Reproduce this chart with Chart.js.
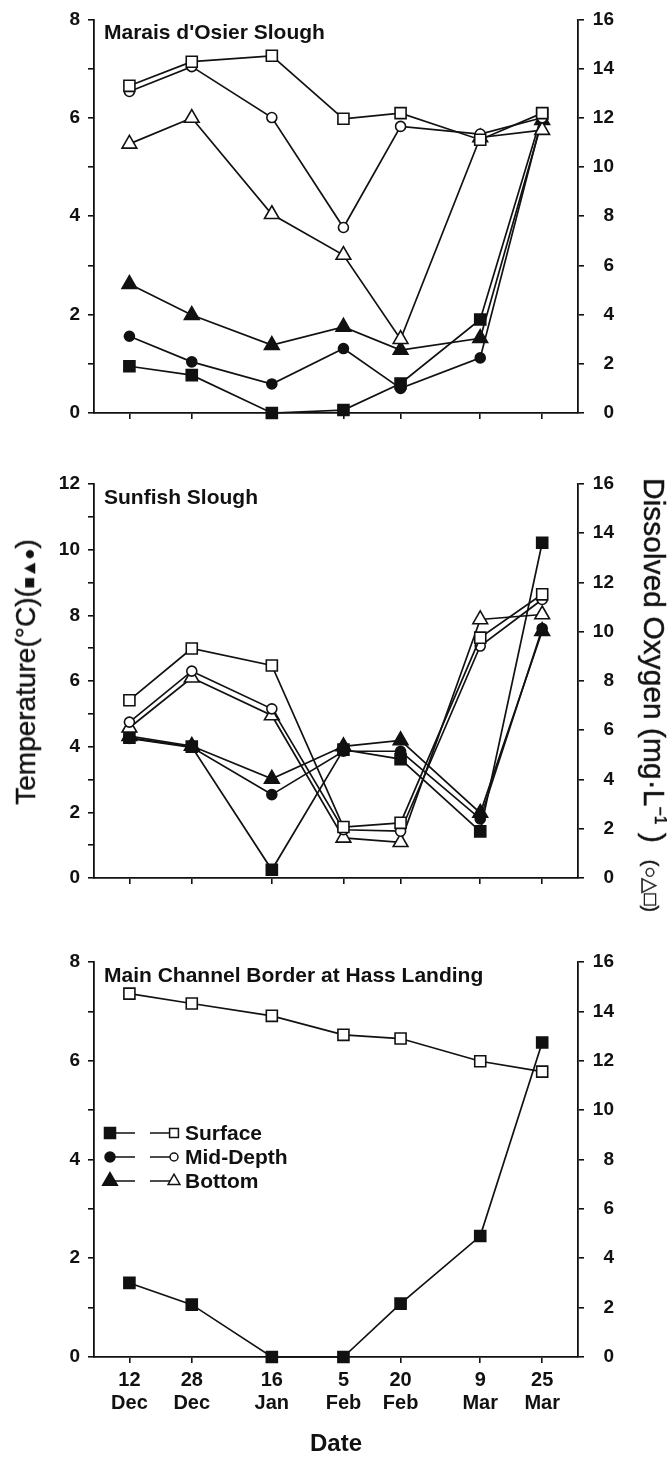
<!DOCTYPE html>
<html><head><meta charset="utf-8">
<script src="https://cdn.jsdelivr.net/npm/chart.js@4.4.1/dist/chart.umd.min.js"></script>
<style>
html,body{margin:0;padding:0;background:#fff;}
#wrap{position:relative;width:667px;height:1459px;overflow:hidden;font-family:"Liberation Sans",Arial,Helvetica,sans-serif;color:#111;background:#fff;}
canvas{position:absolute;left:0;}
.ptitle{position:absolute;left:104px;font-weight:bold;font-size:21px;line-height:21px;white-space:nowrap;}
.rot{position:absolute;white-space:nowrap;transform-origin:center center;-webkit-text-stroke:0.4px #111;}
</style></head>
<body>
<div id="wrap">
<canvas id="c1" width="667" height="440" style="top:0px"></canvas>
<canvas id="c2" width="667" height="460" style="top:440px"></canvas>
<canvas id="c3" width="667" height="559" style="top:900px"></canvas>
<div class="ptitle" style="top:21px">Marais d'Osier Slough</div>
<div class="ptitle" style="top:486px">Sunfish Slough</div>
<div class="ptitle" style="top:964px">Main Channel Border at Hass Landing</div>
<div class="rot" id="tl" style="left:26px;top:672px;font-size:28px;transform:translate(-50%,-50%) rotate(-90deg);">Temperature(°C)(<span style="font-size:18px">■▲●</span>)</div>
<div class="rot" id="tr" style="left:654px;top:695px;font-size:30px;transform:translate(-50%,-50%) rotate(90deg);">Dissolved Oxygen (mg·L<sup style="font-size:16px">−1</sup> )&nbsp;&nbsp;<span style="font-size:20px">(○△□)</span></div>
<div style="position:absolute;left:336px;top:1443px;transform:translate(-50%,-50%);font-weight:bold;font-size:24px;">Date</div>
</div>
<script>
// ---- data ----
const dateLabels = [['12','Dec'],['28','Dec'],['16','Jan'],['5','Feb'],['20','Feb'],['9','Mar'],['25','Mar']];
const dayPos = [0, 15.5, 35.4, 53.2, 67.4, 87.2, 102.6];

const maraisTempSurface = [0.95, 0.77, 0.0, 0.06, 0.6, 1.9, 6.08];
const maraisTempMid     = [1.56, 1.04, 0.59, 1.31, 0.5, 1.12, 6.0];
const maraisTempBottom  = [2.62, 1.99, 1.38, 1.75, 1.28, 1.52, 5.95];
const maraisDOSurface   = [13.3, 14.28, 14.52, 11.96, 12.19, 11.11, 12.19];
const maraisDOMid       = [13.07, 14.08, 12.01, 7.54, 11.65, 11.34, 12.0];
const maraisDOBottom    = [10.94, 11.99, 8.08, 6.42, 3.0, 11.2, 11.5];

const sunTempSurface = [4.27, 4.0, 0.25, 3.91, 3.62, 1.42, 10.21];
const sunTempMid     = [4.25, 3.98, 2.54, 3.86, 3.86, 1.8, 7.6];
const sunTempBottom  = [4.32, 4.02, 3.02, 4.01, 4.19, 1.98, 7.52];
const sunDOSurface   = [7.22, 9.32, 8.63, 2.07, 2.24, 9.76, 11.52];
const sunDOMid       = [6.33, 8.4, 6.87, 1.96, 1.9, 9.42, 11.31];
const sunDOBottom    = [6.1, 8.13, 6.6, 1.63, 1.45, 10.5, 10.7];

const hassTempSurface = [1.5, 1.06, 0.0, 0.0, 1.08, 2.45, 6.37];
const hassDOSurface   = [14.72, 14.32, 13.82, 13.05, 12.9, 11.98, 11.56];

const legendLabels = ['Surface', 'Mid-Depth', 'Bottom'];
const legendStyles = ['rect', 'circle', 'triangle'];

// ---- styling ----
const INK = '#111';
const FONT = '"Liberation Sans", Arial, Helvetica, sans-serif';
const radius = {rect: 7.8, circle: 5, triangle: 8.5};

function series(data, axis, style, filled) {
  return {
    data: dayPos.map((x, i) => ({x: x, y: data[i]})),
    yAxisID: axis,
    borderColor: INK, borderWidth: 1.7,
    pointStyle: style, pointRadius: radius[style],
    pointBackgroundColor: filled ? INK : '#fff',
    pointBorderColor: INK, pointBorderWidth: 1.6,
    fill: false, tension: 0, clip: false
  };
}

const hassLegend = {
  id: 'hassLegend',
  afterDatasetsDraw(chart) {
    const ctx = chart.ctx, a = chart.chartArea;
    ctx.save();
    legendLabels.forEach((lab, i) => {
      const y = a.top + 171 + i * 24;
      const x0 = a.left;
      ctx.strokeStyle = INK; ctx.lineWidth = 1.7;
      ctx.beginPath(); ctx.moveTo(x0 + 20, y); ctx.lineTo(x0 + 41, y);
      ctx.moveTo(x0 + 56, y); ctx.lineTo(x0 + 76, y); ctx.stroke();
      ctx.fillStyle = INK; ctx.lineWidth = 1.5;
      Chart.helpers.drawPoint(ctx, {pointStyle: legendStyles[i], radius: radius[legendStyles[i]], borderWidth: 1.5}, x0 + 16, y);
      ctx.fillStyle = '#fff';
      Chart.helpers.drawPoint(ctx, {pointStyle: legendStyles[i], radius: radius[legendStyles[i]] * 0.8, borderWidth: 1.5}, x0 + 80, y);
      ctx.fillStyle = INK;
      ctx.font = 'bold 21px ' + FONT;
      ctx.textBaseline = 'middle'; ctx.textAlign = 'left';
      ctx.fillText(lab, x0 + 91, y + 1);
    });
    ctx.restore();
  }
};

function makePanel(id, leftMax, datasets, padTop, xHeight, showX, plugins) {
  const grid = {drawOnChartArea: false, drawTicks: true, tickLength: 6, color: INK, lineWidth: 1.6};
  const border = {display: true, color: INK, width: 1.8};
  const tickFont = {family: FONT, size: 19, weight: 'bold'};
  return new Chart(document.getElementById(id), {
    type: 'line',
    data: {datasets: datasets},
    plugins: plugins || [],
    options: {
      responsive: false, animation: false, devicePixelRatio: 1, events: [],
      layout: {padding: {top: padTop, left: 0, right: 53, bottom: 0}},
      plugins: {legend: {display: false}, tooltip: {enabled: false}, title: {display: false}},
      scales: {
        x: {
          type: 'linear', bounds: 'data', min: -8.8, max: 111.5,
          afterBuildTicks: s => { s.ticks = dayPos.map(v => ({value: v})); },
          afterFit: s => { s.height = xHeight; },
          ticks: {display: showX, autoSkip: false, maxRotation: 0, minRotation: 0, padding: 6,
                  color: INK, font: {family: FONT, size: 20, weight: 'bold', lineHeight: 1.15},
                  callback: (v, i) => dateLabels[i]},
          grid: grid, border: border
        },
        yL: {
          position: 'left', min: 0, max: leftMax,
          afterFit: s => { s.width = 94; },
          ticks: {stepSize: 1, autoSkip: false, padding: 8, color: INK, font: tickFont,
                  callback: v => (v % 2 === 0 ? String(v) : '')},
          grid: grid, border: border
        },
        yR: {
          position: 'right', min: 0, max: 16,
          afterFit: s => { s.width = 36; },
          ticks: {stepSize: 2, autoSkip: false, padding: 8, crossAlign: 'far', color: INK, font: tickFont},
          grid: grid, border: border
        }
      }
    }
  });
}

makePanel('c1', 8, [
  series(maraisDOSurface, 'yR', 'rect', false),
  series(maraisDOMid, 'yR', 'circle', false),
  series(maraisDOBottom, 'yR', 'triangle', false),
  series(maraisTempSurface, 'yL', 'rect', true),
  series(maraisTempMid, 'yL', 'circle', true),
  series(maraisTempBottom, 'yL', 'triangle', true)
], 19, 27, false);

makePanel('c2', 12, [
  series(sunDOSurface, 'yR', 'rect', false),
  series(sunDOMid, 'yR', 'circle', false),
  series(sunDOBottom, 'yR', 'triangle', false),
  series(sunTempSurface, 'yL', 'rect', true),
  series(sunTempMid, 'yL', 'circle', true),
  series(sunTempBottom, 'yL', 'triangle', true)
], 44, 22, false);

makePanel('c3', 8, [
  series(hassDOSurface, 'yR', 'rect', false),
  series(hassTempSurface, 'yL', 'rect', true)
], 62, 102, true, [hassLegend]);
</script>
</body></html>
